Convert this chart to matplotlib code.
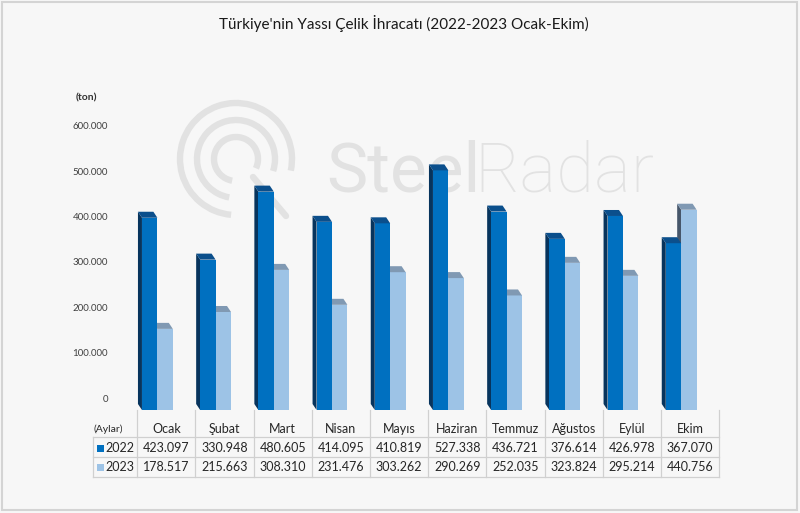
import matplotlib
matplotlib.use("Agg")
import matplotlib.pyplot as plt
from matplotlib.patches import Rectangle, Arc

plt.rcParams['font.family'] = ['Lato', 'DejaVu Sans']

months = ["Ocak", "Şubat", "Mart", "Nisan", "Mayıs", "Haziran", "Temmuz", "Ağustos", "Eylül", "Ekim"]
exp_2022 = [423097, 330948, 480605, 414095, 410819, 527338, 436721, 376614, 426978, 367070]
exp_2023 = [178517, 215663, 308310, 231476, 303262, 290269, 252035, 323824, 295214, 440756]
years = ["2022", "2023"]
y_ticks = [0, 100000, 200000, 300000, 400000, 500000, 600000]


def fmt(v):
    # turkish style thousands separator
    return f"{v:,}".replace(",", ".")


W, H = 800, 513
fig = plt.figure(figsize=(W / 100, H / 100), dpi=100)
fig.patch.set_facecolor("#f7f7f7")


def px_axes(x0, y0, x1, y1, **kw):
    # axes from pixel box (top-left origin)
    return fig.add_axes([x0 / W, 1 - y1 / H, (x1 - x0) / W, (y1 - y0) / H], **kw)


# watermark overlay
wm = px_axes(0, 0, W, H)
wm.set_xlim(0, W)
wm.set_ylim(H, 0)
wm.axis("off")
wm.set_zorder(0)
wm_col = "#e2e2e2"
cx, cy = 236, 159
for r, a1, a2 in [(56, 95, 372), (39, 100, 378), (22, 100, 385)]:
    wm.add_patch(Arc((cx, cy), 2 * r, 2 * r, theta1=a1, theta2=a2, lw=4.6, color=wm_col))
wm.plot([253, 286], [177, 216], color=wm_col, lw=4.6, solid_capstyle="round")
wm.text(326, 191, "Steel", fontsize=50, color=wm_col, ha="left", va="baseline", family="Roboto")
wm.text(654, 191, "Radar", fontsize=50, color=wm_col, ha="right", va="baseline",
        family="Roboto", fontweight="light")

# frame
wm.add_patch(Rectangle((2, 2), W - 5, H - 5, fill=False, ec="#d4d4d4", lw=1.5))

fig.text(404 / W, 1 - 24 / H, "Türkiye'nin Yassı Çelik İhracatı (2022-2023 Ocak-Ekim)",
         ha="center", va="center", fontsize=11, color="#1a1a1a")
fig.text(76 / W, 1 - 98 / H, "(ton)", ha="left", va="center", fontsize=7.5,
         fontweight="bold", color="#333333")

# bar axes
ax = px_axes(137.3, 95, 719.3, 417)
ax.patch.set_alpha(0)
ax.set_zorder(1)
ax.set_xlim(-0.5, 9.5)
ax.set_ylim(-41200, 667500)
for s in ax.spines.values():
    s.set_visible(False)
ax.set_xticks([])
ax.set_yticks(y_ticks)
ax.set_yticklabels([fmt(v) for v in y_ticks], fontsize=7, color="#404040")
ax.tick_params(axis="y", length=0, pad=21)

base = -25750
bw = 0.265
dx = 4 / 58.2
dy = 13200
colors = {
    "2022": ("#0070c0", "#07345d", "#0b4f8c"),
    "2023": ("#9dc3e6", "#46566a", "#8099b3"),
}
offsets = {"2022": -0.42, "2023": -0.155}
series = {"2022": exp_2022, "2023": exp_2023}

z = 2
for i in range(len(months)):
    for yr in ["2023", "2022"]:
        v = series[yr][i]
        front, side, top = colors[yr]
        x0 = i + offsets[yr]
        t = base + v
        ax.fill([x0, x0, x0 - dx, x0 - dx], [base, t, t + dy, base + dy], color=side, lw=0, zorder=z)
        ax.bar(x0, v, width=bw, bottom=base, align="edge", color=front, lw=0, zorder=z + 1)
        ax.fill([x0, x0 + bw, x0 + bw - dx, x0 - dx], [t, t, t + dy, t + dy], color=top, lw=0, zorder=z + 2)
        z += 3

# data table
tb = px_axes(92.7, 417, 719.3, 477)
tb.patch.set_alpha(0)
tb.set_xlim(-1.266, 9.5)
tb.set_ylim(3, 0)
tb.axis("off")
gc = "#d0d0d0"
for r in [1, 2, 3]:
    tb.plot([-1.266, 9.5], [r, r], color=gc, lw=0.9, clip_on=False)
for k in range(11):
    tb.plot([k - 0.5, k - 0.5], [-0.35, 3], color=gc, lw=0.9, clip_on=False)
tb.plot([-1.266, -1.266], [1, 3], color=gc, lw=0.9, clip_on=False)

txt = "#262626"
tb.text(-1.25, 0.6, "(Aylar)", ha="left", va="center", fontsize=7.5, color=txt)
for i, m in enumerate(months):
    tb.text(i, 0.6, m, ha="center", va="center", fontsize=9, color=txt)
    tb.text(i, 1.55, fmt(exp_2022[i]), ha="center", va="center", fontsize=9, color=txt)
    tb.text(i, 2.52, fmt(exp_2023[i]), ha="center", va="center", fontsize=9, color=txt)
for r, yr in enumerate(years):
    tb.add_patch(Rectangle((-1.198, 1.38 + r * 0.97), 0.12, 0.35, color=colors[yr][0], lw=0))
    tb.text(-1.04, 1.55 + r * 0.97, yr, ha="left", va="center", fontsize=9, color=txt)

fig.savefig("out.png", dpi=100, facecolor=fig.get_facecolor())
